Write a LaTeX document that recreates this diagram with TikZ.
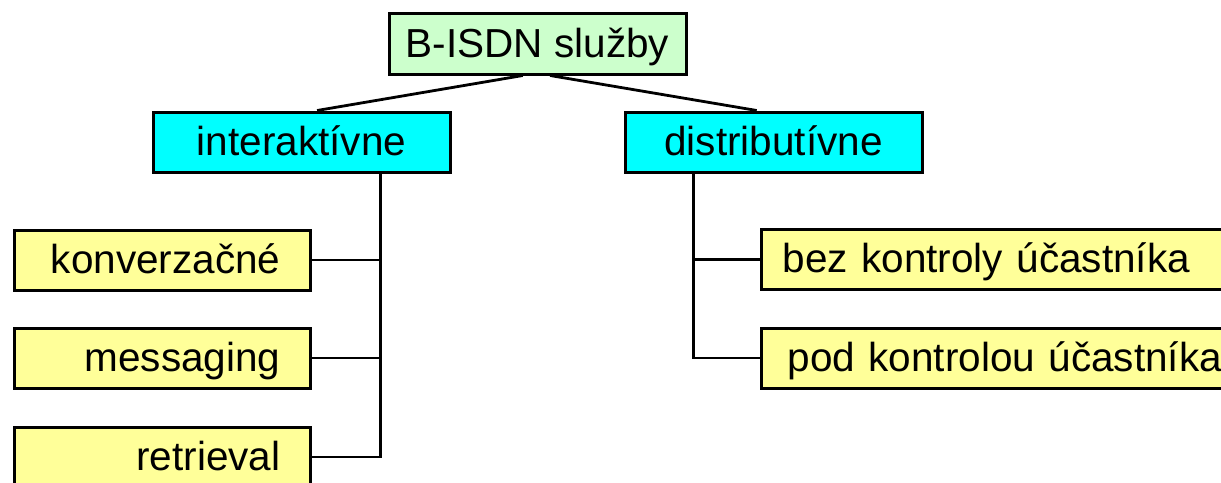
\documentclass[tikz,border=0pt]{standalone}
\usepackage{fontspec}
\setmainfont{Liberation Sans}
\usetikzlibrary{calc}
\definecolor{rootgreen}{HTML}{CCFFCC}
\definecolor{boxcyan}{HTML}{00FFFF}
\definecolor{boxyellow}{HTML}{FFFF99}
\tikzset{
  box/.style={draw=black, line width=3pt, inner ysep=0pt, text height=43pt, text depth=17pt,
              font=\fontsize{40.5}{48}\selectfont},
  topbox/.style={box, minimum width=297pt, inner xsep=0pt, align=center},
  leftbox/.style={box, fill=boxyellow, anchor=east, inner xsep=30pt, text width=236pt, align=right},
  rightbox/.style={box, fill=boxyellow, anchor=west, text width=440pt, align=left},
  conn/.style={draw=black, line width=2.8pt}
}
\begin{document}
\begin{tikzpicture}[x=1pt, y=-1pt]
\useasboundingbox (0,0) rectangle (1221,482);
\clip (0,0) rectangle (1221,482);
\fill[white] (0,0) rectangle (1221,482);

\node[topbox, fill=rootgreen, text height=44pt, text depth=17pt] (root) at (537.5,43.5) {B-ISDN služby};
\node[topbox, fill=boxcyan] (inter) at (301.5,142) {interaktívne};
\node[topbox, fill=boxcyan] (distr) at (773.5,142) {distributívne};

\node[leftbox] (konv) at (312,260) {konverzačné};
\node[leftbox] (mess) at (312,358) {messaging};
\node[leftbox] (retr) at (312,457) {retrieval};

\node[rightbox, inner xsep=21pt] (bez) at (760,259.5) {bez kontroly účastníka};
\node[rightbox, inner xsep=26pt] (pod) at (760,358) {pod kontrolou účastníka};

\coordinate (rl) at ($(root.south west)!0.451!(root.south east)$);
\coordinate (rr) at ($(root.south west)!0.542!(root.south east)$);
\coordinate (it) at ($(inter.north west)!0.552!(inter.north east)$);
\coordinate (dt) at ($(distr.north west)!0.444!(distr.north east)$);
\coordinate (ib) at ($(inter.south west)!0.764!(inter.south east)$);
\coordinate (db) at ($(distr.south west)!0.232!(distr.south east)$);

\draw[conn] (rl) -- (it);
\draw[conn] (rr) -- (dt);

\draw[conn] (ib) |- (retr.east);
\draw[conn] (konv.east) -- (konv.east -| ib);
\draw[conn] (mess.east) -- (mess.east -| ib);

\draw[conn] (db) |- (pod.west);
\draw[conn] (bez.west) -- (bez.west -| db);
\end{tikzpicture}
\end{document}
